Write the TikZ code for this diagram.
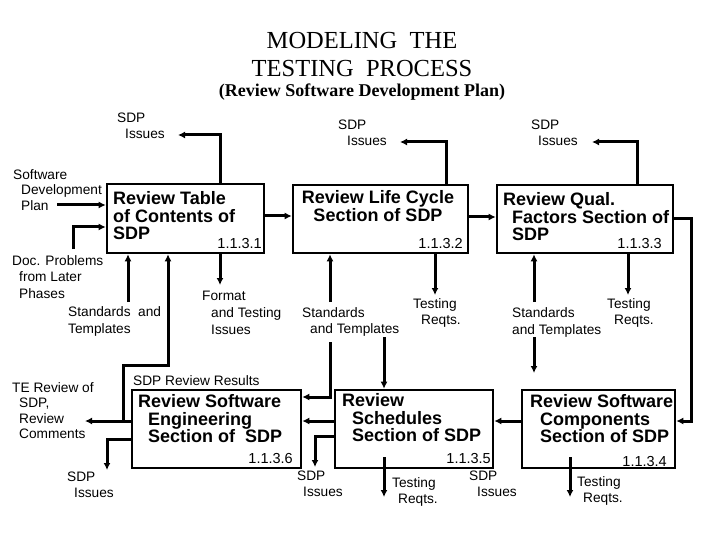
\documentclass[tikz,border=0pt]{standalone}
\usepackage{fontspec}
\setmainfont{Liberation Serif}
\newfontfamily\arialf{Liberation Sans}
\usetikzlibrary{arrows.meta}
\tikzset{
  box/.style={draw, line width=2.6pt, inner sep=0pt},
  conn/.style={line width=3pt, -{Latex[length=7pt,width=7pt]}},
  line/.style={line width=3pt},
  boxtxt/.style={anchor=north west, inner sep=0pt, align=left, font=\arialf\bfseries\fontsize{18}{17.8}\selectfont},
  lbl/.style={anchor=north west, inner sep=0pt, align=left, font=\arialf\fontsize{13.7}{15.5}\selectfont},
  num/.style={anchor=base east, inner sep=0pt, font=\arialf\fontsize{14.5}{15}\selectfont},
}
\begin{document}
\begin{tikzpicture}[x=1pt,y=-1pt]
\useasboundingbox (0,0) rectangle (720,540);
% titles
\node[anchor=base, inner sep=0pt, font=\fontsize{24.5}{25}\selectfont] (t1) at (362,49) {MODELING\ \ THE};
\node[anchor=base, inner sep=0pt, font=\fontsize{24.5}{25}\selectfont] (t2) at (362,77) {TESTING\ \ PROCESS};
\node[anchor=base, inner sep=0pt, font=\bfseries\fontsize{18}{18}\selectfont] (t3) at (362,97) {(Review Software Development Plan)};
% boxes
\node[box, minimum width=157pt, minimum height=69pt] (b1) at (185.5,218.5) {};
\node[box, minimum width=175pt, minimum height=68pt] (b2) at (380.5,219) {};
\node[box, minimum width=176pt, minimum height=68pt] (b3) at (585,219) {};
\node[box, minimum width=169pt, minimum height=78pt] (b6) at (216.5,429) {};
\node[box, minimum width=158pt, minimum height=78pt] (b5) at (414,429) {};
\node[box, minimum width=153pt, minimum height=78pt] (b4) at (598.5,429) {};
% box texts
\node[boxtxt] (b1t) at (113,191) {Review Table\\of Contents of\\SDP};
\node[boxtxt, anchor=north, align=center] (b2t) at (378,190) {Review Life Cycle\\Section of SDP};
\node[boxtxt] (b3t) at (503,192) {Review Qual.\\\hspace*{9pt}Factors Section of\\\hspace*{9pt}SDP};
\node[boxtxt] (b6t) at (138,394) {Review Software\\\hspace*{10pt}Engineering\\\hspace*{10pt}Section of\ \ SDP};
\node[boxtxt] (b5t) at (342,393) {Review\\\hspace*{10pt}Schedules\\\hspace*{10pt}Section of SDP};
\node[boxtxt] (b4t) at (530,394) {Review Software\\\hspace*{10pt}Components\\\hspace*{10pt}Section of SDP};
% numbers
\node[num] (n1) at (262,248) {1.1.3.1};
\node[num] (n2) at (463,248) {1.1.3.2};
\node[num] (n3) at (662,248) {1.1.3.3};
\node[num] (n6) at (293,463) {1.1.3.6};
\node[num] (n5) at (491,463) {1.1.3.5};
\node[num] (n4) at (667,466) {1.1.3.4};
% labels
\node[lbl] (i1) at (117,113) {SDP\\\hspace*{8pt}Issues};
\node[lbl] (i2) at (338,120) {SDP\\\hspace*{9pt}Issues};
\node[lbl] (i3) at (531,120) {SDP\\\hspace*{7pt}Issues};
\node[lbl] (plan) at (13,169) {Software\\\hspace*{8pt}Development\\\hspace*{8pt}Plan};
\node[lbl, font=\arialf\fontsize{13.7}{16.8}\selectfont] (doc) at (12,255) {Doc. Problems\\\hspace*{7pt}from Later\\\hspace*{7pt}Phases};
\node[lbl, font=\arialf\fontsize{13.7}{17}\selectfont] (st1) at (68,306) {Standards\ \ and\\Templates};
\node[lbl, font=\arialf\fontsize{13.7}{17}\selectfont] (fmt) at (202,291) {Format\\\hspace*{9pt}and Testing\\\hspace*{9pt}Issues};
\node[lbl, font=\arialf\fontsize{13.7}{16.3}\selectfont] (st2) at (302,307) {Standards\\\hspace*{8pt}and Templates};
\node[lbl, font=\arialf\fontsize{13.7}{16.3}\selectfont] (tr2) at (413,298) {Testing\\\hspace*{8pt}Reqts.};
\node[lbl, font=\arialf\fontsize{13.7}{17}\selectfont] (st3) at (512,307) {Standards\\and Templates};
\node[lbl, font=\arialf\fontsize{13.7}{16.3}\selectfont] (tr3) at (607,298) {Testing\\\hspace*{7pt}Reqts.};
\node[lbl] (res) at (133,375) {SDP Review Results};
\node[lbl] (te) at (12,382) {TE Review of\\\hspace*{7pt}SDP,\\\hspace*{7pt}Review\\\hspace*{7pt}Comments};
\node[lbl] (i6) at (67,472) {SDP\\\hspace*{7pt}Issues};
\node[lbl, font=\arialf\fontsize{13.7}{16}\selectfont] (i5) at (297,471) {SDP\\\hspace*{6pt}Issues};
\node[lbl, font=\arialf\fontsize{13.7}{16}\selectfont] (tr5) at (392,477) {Testing\\\hspace*{6pt}Reqts.};
\node[lbl, font=\arialf\fontsize{13.7}{16}\selectfont] (i5b) at (469,471) {SDP\\\hspace*{8pt}Issues};
\node[lbl, font=\arialf\fontsize{13.7}{16}\selectfont] (tr4) at (577,476) {Testing\\\hspace*{6pt}Reqts.};
% free ends
\coordinate (i1e) at (178,135);
\coordinate (i2e) at (400,142);
\coordinate (i3e) at (592,142);
\coordinate (planE) at (57,205);
\coordinate (docS) at (73,249);
\coordinate (st1N) at (128,302);
\coordinate (j6) at (123,421);
\coordinate (teE) at (85,421);
\coordinate (i6N) at (107,470);
\coordinate (fmtN) at (220,285);
\coordinate (st2N) at (330,302);
\coordinate (st2S) at (330,342);
\coordinate (st2R) at (384,337);
\coordinate (tr2N) at (435,295);
\coordinate (st3N) at (534,302);
\coordinate (st3S) at (534,337);
\coordinate (st3E) at (534,373);
\coordinate (tr3N) at (628,295);
\coordinate (i5N) at (315,467);
\coordinate (tr5S) at (384,457);
\coordinate (tr5N) at (384,497);
\coordinate (tr4S) at (570,457);
\coordinate (tr4N) at (570,497);
% connectors
\draw[conn] (220,0 |- b1.north) |- (i1e);
\draw[conn] (446,0 |- b2.north) |- (i2e);
\draw[conn] (637,0 |- b3.north) |- (i3e);
\draw[conn] (planE) -- (b1.west |- planE);
\draw[conn] (docS) |- (b1.west |- 0,227);
\draw[conn] (b1.east |- 0,216) -- (b2.west |- 0,216);
\draw[conn] (b2.east |- 0,217) -- (b3.west |- 0,217);
\draw[conn] (b3.east |- 0,219) -| (691,300) |- (b4.east |- 0,421);
\draw[conn] (st1N) -- (st1N |- b1.south);
\draw[conn] (b6.west |- j6) -- (teE);
\draw[conn] (j6) |- (168,365) -- (168,0 |- b1.south);
\draw[conn] (b6.west |- 0,439) -| (i6N);
\draw[conn] (fmtN |- b1.south) -- (fmtN);
\draw[conn] (st2N) -- (st2N |- b2.south);
\draw[conn] (st2S) |- (b6.east |- 0,397);
\draw[conn] (st2R) -- (st2R |- b5.north);
\draw[conn] (tr2N |- b2.south) -- (tr2N);
\draw[conn] (st3N) -- (st3N |- b3.south);
\draw[conn] (st3S) -- (st3E);
\draw[conn] (tr3N |- b3.south) -- (tr3N);
\draw[conn] (b4.west |- 0,421) -- (b5.east |- 0,421);
\draw[conn] (b5.west |- 0,421) -- (b6.east |- 0,421);
\draw[conn] (b5.west |- 0,436) -| (i5N);
\draw[conn] (tr5S) -- (tr5N);
\draw[conn] (tr4S) -- (tr4N);
\end{tikzpicture}
\end{document}
